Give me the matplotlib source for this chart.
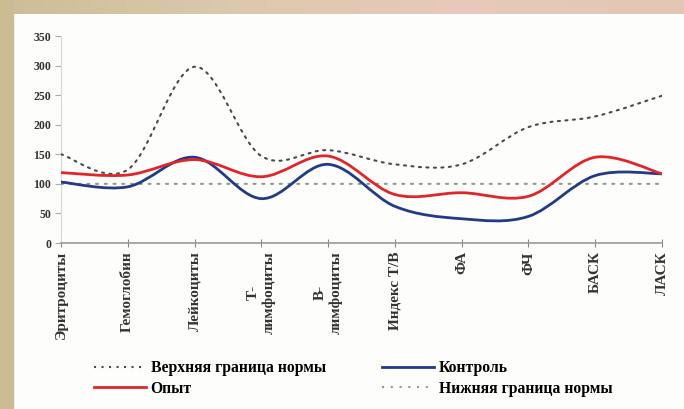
import numpy as np
import matplotlib
matplotlib.use("Agg")
import matplotlib.pyplot as plt
from matplotlib.path import Path
from matplotlib.patches import PathPatch, Rectangle
from matplotlib.lines import Line2D
from matplotlib.colors import LinearSegmentedColormap

plt.rcParams['font.family'] = ['Liberation Serif', 'DejaVu Serif']

# данные
categories = ['Эритроциты', 'Гемоглобин', 'Лейкоциты', 'Т-\nлимфоциты', 'В-\nлимфоциты',
              'Индекс Т/В', 'ФА', 'ФЧ', 'БАСК', 'ЛАСК']
upper_norm = [150, 124, 298, 147, 157, 133, 133, 196, 214, 249]
lower_norm = [100, 100, 100, 100, 100, 100, 100, 100, 100, 100]
control = [103, 95, 145, 75, 133, 62, 41, 45, 114, 117]
experiment = [119, 115, 141, 112, 147, 82, 85, 79, 145, 117]
y_ticks = [0, 50, 100, 150, 200, 250, 300, 350]


def smooth_path(xs, ys):
    # сглаживание как в Excel (кривые Безье)
    pts = np.column_stack([xs, ys]).astype(float)
    n = len(pts)
    verts = [pts[0]]
    codes = [Path.MOVETO]
    for i in range(n - 1):
        p0 = pts[i - 1] if i > 0 else pts[i]
        p1 = pts[i]
        p2 = pts[i + 1]
        p3 = pts[i + 2] if i + 2 < n else pts[i + 1]
        c1 = p1 + (p2 - p0) / 6.0
        c2 = p2 - (p3 - p1) / 6.0
        verts += [c1, c2, p2]
        codes += [Path.CURVE4] * 3
    return Path(verts, codes)


fig = plt.figure(figsize=(6.84, 4.09), dpi=100)
fig.patch.set_facecolor('#fdfdfb')

# фон страницы (полосы по краям)
fig.patches.append(Rectangle((0, 0), 13 / 684, 1, transform=fig.transFigure,
                             color='#cbbc94', zorder=0))
top = fig.add_axes([0, 1 - 14 / 409, 1, 14 / 409])
grad = LinearSegmentedColormap.from_list('g', ['#cdbd98', '#dcc8ac', '#e8c9bb', '#e2c7b4'])
top.imshow(np.linspace(0, 1, 256).reshape(1, -1), aspect='auto', cmap=grad)
top.axis('off')

ax = fig.add_axes([61 / 684, 1 - 243 / 409, (662 - 61) / 684, (243 - 36) / 409])
ax.set_facecolor('none')
x = np.arange(len(categories))

styles = [
    (upper_norm, dict(color='#4a4a4a', lw=1.5, ls=(0, (1, 2.6))), 'Верхняя граница нормы'),
    (experiment, dict(color='#e0262a', lw=2.0, ls='-'), 'Опыт'),
    (control, dict(color='#233a86', lw=2.0, ls='-'), 'Контроль'),
    (lower_norm, dict(color='#8f9c8c', lw=1.5, ls=(0, (1, 3.2))), 'Нижняя граница нормы'),
]
order = [3, 0, 2, 1]
for k in order:
    vals, st, lab = styles[k]
    ax.add_patch(PathPatch(smooth_path(x, vals), fill=False, edgecolor=st['color'],
                           lw=st['lw'], linestyle=st['ls'], capstyle='round',
                           joinstyle='round', zorder=3))

ax.set_xlim(0, len(categories) - 1)
ax.set_ylim(0, 350)
ax.set_yticks(y_ticks)
ax.set_yticklabels([str(v) for v in y_ticks], fontsize=8.5, fontweight='bold', color='#333333')
ax.set_xticks(x)
ax.set_xticklabels(categories, rotation=90, fontsize=11, fontweight='bold',
                   color='#333333', va='top', multialignment='center')

for s in ['top', 'right']:
    ax.spines[s].set_visible(False)
ax.spines['left'].set_color('#d8d8d8')
ax.spines['bottom'].set_color('#999999')
ax.spines['bottom'].set_linewidth(1.2)
ax.tick_params(axis='y', direction='out', length=4, color='#aaaaaa', pad=3)
ax.tick_params(axis='x', direction='inout', length=6, color='#888888', pad=3)

handles = [Line2D([], [], **styles[k][1]) for k in range(4)]
labels = [styles[k][2] for k in range(4)]
fig.legend(handles, labels, ncol=2, loc='upper left', bbox_to_anchor=(80 / 684, 1 - 346 / 409),
           frameon=False, handlelength=3.3, handletextpad=0.3,
           columnspacing=3.6, labelspacing=0.3, prop={'weight': 'bold', 'size': 11.3})

fig.savefig('out.png', dpi=100, facecolor=fig.get_facecolor())
